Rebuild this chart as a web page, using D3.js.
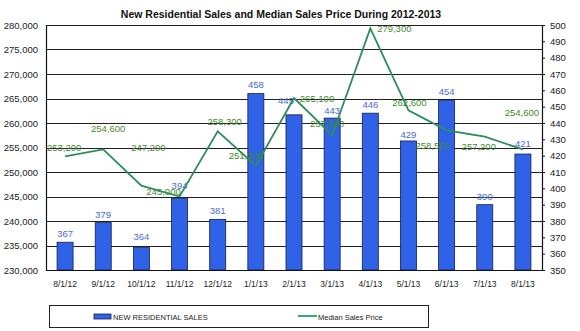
<!DOCTYPE html>
<html>
<head>
<meta charset="utf-8">
<script src="https://cdn.jsdelivr.net/npm/d3@7"></script>
<style>
  body { margin: 0; background: #fff; }
  svg { display: block; font-family: "Liberation Sans", Arial, sans-serif; }
</style>
</head>
<body>
<svg width="580" height="331"></svg>
<script>
const months = ["8/1/12", "9/1/12", "10/1/12", "11/1/12", "12/1/12", "1/1/13", "2/1/13",
                "3/1/13", "4/1/13", "5/1/13", "6/1/13", "7/1/13", "8/1/13"];
const sales = [367, 379, 364, 394, 381, 458, 445, 443, 446, 429, 454, 390, 421];
const prices = [253200, 254600, 247200, 245000, 258300, 251300, 265100,
                257500, 279300, 262600, 258500, 257200, 254600];
const priceTicks = [230000, 235000, 240000, 245000, 250000, 255000, 260000, 265000, 270000, 275000, 280000];
const salesTicks = [350, 360, 370, 380, 390, 400, 410, 420, 430, 440, 450, 460, 470, 480, 490, 500];

// where Excel dropped the value labels, relative to each point / bar top
const priceLabelShift = [[-1, -5], [5, -17], [7, -35], [-16, -2], [7, -6], [-10, -7], [23, 4],
                         [-5, -8], [24, 4], [1, -4], [-14, 19], [-6, 13], [-1, -33]];
const salesLabelShift = [[0, -5], [0, -5], [0, -7], [0, -9], [0, -5], [0, -6], [-8, -11],
                         [0, -4], [0, -5], [0, -3], [0, -5], [0, -5], [0, -7]];

const svg = d3.select("svg");
const plot = { left: 46, right: 542, top: 25, bottom: 270 };

const x = d3.scaleBand().domain(months).range([plot.left, plot.right]).padding(0);
const yPrice = d3.scaleLinear().domain([230000, 280000]).range([plot.bottom, plot.top]);
const ySales = d3.scaleLinear().domain([350, 500]).range([plot.bottom, plot.top]);
const cx = d => x(d) + x.bandwidth() / 2;
const barW = x.bandwidth() * 0.42;

const barColor = "#3062e8";
const lineColor = "#2b8c5c";

// title
svg.append("text")
    .attr("x", 281).attr("y", 18)
    .attr("text-anchor", "middle")
    .style("font-size", "10.5px").style("font-weight", "bold").attr("fill", "#111")
    .text("New  Residential Sales and Median Sales Price During 2012-2013");

// gridlines
svg.append("g").selectAll("line")
    .data(priceTicks)
    .enter().append("line")
    .attr("x1", plot.left).attr("x2", plot.right)
    .attr("y1", d => Math.round(yPrice(d)) + 0.5).attr("y2", d => Math.round(yPrice(d)) + 0.5)
    .attr("stroke", "#222").attr("stroke-width", 1);

// bars
svg.append("g").selectAll("rect")
    .data(sales)
    .enter().append("rect")
    .attr("x", (d, i) => cx(months[i]) - barW / 2)
    .attr("y", d => ySales(d))
    .attr("width", barW)
    .attr("height", d => plot.bottom - ySales(d))
    .attr("fill", barColor)
    .attr("stroke", "#14204a").attr("stroke-width", 0.8);

svg.append("g").selectAll("text")
    .data(sales)
    .enter().append("text")
    .attr("x", (d, i) => cx(months[i]) + salesLabelShift[i][0])
    .attr("y", (d, i) => ySales(d) + salesLabelShift[i][1])
    .attr("text-anchor", "middle")
    .style("font-size", "9.5px").attr("fill", "#4a6ad8")
    .text(d => d);

// price line
const line = d3.line()
    .x((d, i) => cx(months[i]))
    .y(d => yPrice(d));

svg.append("path")
    .datum(prices)
    .attr("d", line)
    .attr("fill", "none")
    .attr("stroke", lineColor)
    .attr("stroke-width", 1.8);

svg.append("g").selectAll("text")
    .data(prices)
    .enter().append("text")
    .attr("x", (d, i) => cx(months[i]) + priceLabelShift[i][0])
    .attr("y", (d, i) => yPrice(d) + priceLabelShift[i][1])
    .attr("text-anchor", "middle")
    .style("font-size", "9.5px").attr("fill", "#3f8a2e")
    .text(d => d3.format(",")(d));

// axes
const leftAxis = svg.append("g")
    .attr("transform", `translate(${plot.left},0)`)
    .call(d3.axisLeft(yPrice).tickValues(priceTicks).tickFormat(d3.format(",")).tickSize(0).tickPadding(8));

const rightAxis = svg.append("g")
    .attr("transform", `translate(${plot.right},0)`)
    .call(d3.axisRight(ySales).tickValues(salesTicks).tickSize(3).tickPadding(5));

const bottomAxis = svg.append("g")
    .attr("transform", `translate(0,${plot.bottom})`)
    .call(d3.axisBottom(x).tickSize(0).tickPadding(11));

[leftAxis, rightAxis, bottomAxis].forEach(a => {
    a.selectAll("path.domain").attr("stroke", "#111").attr("stroke-width", 1.2);
    a.selectAll(".tick line").attr("stroke", "#111");
    a.selectAll("text").attr("fill", "#222").style("font-family", "'Liberation Sans', Arial, sans-serif");
});
leftAxis.selectAll("text").style("font-size", "9.5px");
rightAxis.selectAll("text").style("font-size", "9.5px");
bottomAxis.selectAll("text").style("font-size", "8.5px");

// legend
const legend = svg.append("g");
legend.append("rect")
    .attr("x", 49.5).attr("y", 305.5).attr("width", 379).attr("height", 22)
    .attr("fill", "#fff").attr("stroke", "#222").attr("stroke-width", 1);
legend.append("rect")
    .attr("x", 94).attr("y", 314).attr("width", 17).attr("height", 5)
    .attr("fill", barColor).attr("stroke", "#14204a").attr("stroke-width", 0.8);
legend.append("text")
    .attr("x", 113).attr("y", 319.5)
    .style("font-size", "7.5px").attr("fill", "#222")
    .text("NEW RESIDENTIAL SALES");
legend.append("line")
    .attr("x1", 298).attr("x2", 317).attr("y1", 316).attr("y2", 316)
    .attr("stroke", "#1fa070").attr("stroke-width", 1.8);
legend.append("text")
    .attr("x", 318).attr("y", 319.5)
    .style("font-size", "7.5px").attr("fill", "#222")
    .text("Median Sales Price");
</script>
</body>
</html>
